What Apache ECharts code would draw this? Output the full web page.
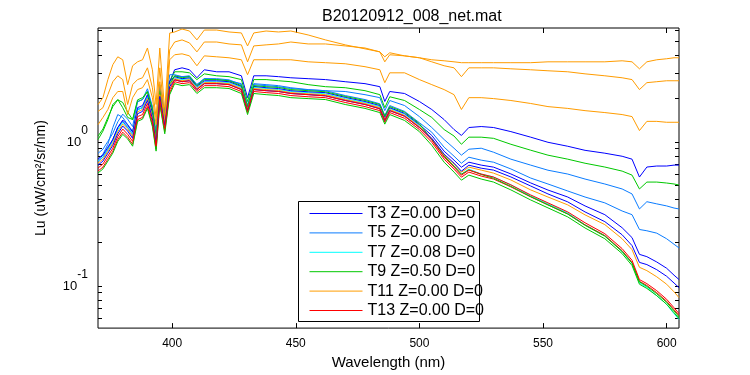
<!DOCTYPE html>
<html>
<head>
<meta charset="utf-8">
<script src="https://cdn.jsdelivr.net/npm/echarts@6/dist/echarts.min.js"></script>
<style>
  html, body { margin: 0; padding: 0; background: #fff; }
  #chart { width: 750px; height: 375px; }
</style>
</head>
<body>
<div id="chart"></div>
<script>
// wavelength grid (nm)
const wavelength = [370,372,374,376,378,380,382,384,386,388,390,392,393.5,395,397,399,401,404,407,410,413,418,423,428,430.5,433,438,443,448,455,462,470,478,484,486,488,494,500,505,510,514,517,520,525,530,537,545,552,560,567,575,582,586,589,592,596,600,603,605]

// Lu (uW/cm^2/sr/nm) per cast
const t3 = [0.736,0.784,0.891,1.04,1.26,1.39,1.26,1.13,1.68,1.73,2.06,1.55,1.01,2.24,1.39,2.62,3.17,3.27,3.17,2.79,3.17,3.07,3.07,2.88,2.03,2.88,2.88,2.84,2.79,2.75,2.71,2.62,2.54,2.42,1.91,2.24,2.17,1.91,1.68,1.43,1.22,1.11,1.26,1.28,1.26,1.18,1.08,0.995,0.934,0.875,0.836,0.796,0.760,0.571,0.670,0.681,0.681,0.691,0.691]
const t5 = [0.760,0.823,0.964,1.26,1.55,1.48,1.32,1.19,1.68,1.73,2.03,1.55,0.964,2.13,1.32,2.46,2.88,2.84,2.84,2.50,2.75,2.71,2.66,2.54,1.79,2.54,2.50,2.46,2.38,2.31,2.27,2.24,2.13,2.03,1.65,1.94,1.79,1.50,1.26,1.04,0.905,0.810,0.891,0.905,0.849,0.760,0.691,0.637,0.599,0.553,0.511,0.472,0.436,0.343,0.385,0.372,0.360,0.348,0.343]
const t7 = [0.736,0.785,0.891,1.01,1.22,1.37,1.27,1.13,1.68,1.73,2.06,1.55,1.04,2.20,1.38,2.58,2.79,2.71,2.75,2.39,2.62,2.62,2.58,2.39,1.71,2.39,2.35,2.31,2.24,2.20,2.16,2.00,1.88,1.76,1.46,1.71,1.56,1.30,1.04,0.797,0.680,0.598,0.648,0.599,0.571,0.504,0.423,0.372,0.322,0.266,0.224,0.173,0.144,0.105,0.0979,0.0858,0.0748,0.0643,0.0586]
const t9 = [1.04,1.19,1.43,1.82,1.97,1.73,1.48,1.43,1.91,1.97,2.24,1.73,1.04,2.38,1.48,2.62,3.07,3.07,3.02,2.71,2.97,2.88,2.84,2.71,1.91,2.71,2.71,2.66,2.62,2.50,2.42,2.38,2.27,2.13,1.73,2.06,1.94,1.68,1.48,1.22,1.10,0.964,1.08,1.08,1.06,0.964,0.877,0.810,0.760,0.712,0.670,0.628,0.589,0.472,0.527,0.527,0.519,0.511,0.503]
const t11 = [1.82,2.03,2.71,3.44,3.90,3.72,2.50,3.38,3.60,3.72,4.49,3.17,1.82,4.49,1.63,5.70,5.80,6.08,5.89,5.11,5.98,5.98,5.80,5.71,4.64,5.71,5.89,5.80,5.89,5.53,5.11,4.72,4.43,4.22,3.90,4.16,3.96,3.84,3.72,3.66,3.60,3.55,3.55,3.55,3.55,3.55,3.55,3.60,3.60,3.60,3.60,3.66,3.60,3.22,3.60,3.72,3.78,3.84,3.84]
const t13 = [0.628,0.670,0.760,0.863,1.04,1.17,1.08,0.964,1.43,1.48,1.76,1.32,0.891,1.88,1.18,2.20,2.62,2.54,2.58,2.24,2.46,2.46,2.42,2.24,1.60,2.24,2.20,2.17,2.10,2.06,2.03,1.88,1.76,1.65,1.37,1.60,1.46,1.22,0.995,0.760,0.648,0.570,0.618,0.580,0.553,0.488,0.416,0.366,0.317,0.266,0.224,0.176,0.146,0.108,0.101,0.090,0.0785,0.0685,0.0625]
const t15 = [0.760,0.811,0.920,1.04,1.26,1.42,1.31,1.17,1.73,1.79,2.13,1.60,1.08,2.27,1.43,2.66,2.84,2.75,2.79,2.43,2.66,2.66,2.62,2.43,1.73,2.43,2.38,2.35,2.27,2.23,2.20,2.04,1.91,1.79,1.48,1.73,1.58,1.32,1.11,0.863,0.748,0.668,0.724,0.691,0.669,0.600,0.520,0.464,0.415,0.360,0.313,0.254,0.217,0.166,0.160,0.147,0.133,0.119,0.111]
const t17 = [0.835,0.891,1.01,1.15,1.38,1.56,1.44,1.28,1.90,1.97,2.34,1.76,1.19,2.50,1.57,2.93,2.93,2.84,2.88,2.50,2.75,2.75,2.70,2.50,1.79,2.50,2.46,2.42,2.35,2.30,2.27,2.10,1.97,1.84,1.53,1.79,1.63,1.36,1.17,0.920,0.797,0.712,0.784,0.748,0.724,0.650,0.562,0.511,0.457,0.415,0.378,0.332,0.313,0.247,0.242,0.233,0.213,0.195,0.184]
const t19 = [1.10,1.23,1.48,1.76,1.96,1.88,1.61,1.43,1.96,2.03,2.23,1.68,1.08,2.27,1.38,2.50,2.88,2.79,2.84,2.46,2.71,2.71,2.66,2.46,1.76,2.46,2.42,2.39,2.31,2.27,2.23,2.07,1.94,1.82,1.51,1.76,1.61,1.34,1.04,0.797,0.680,0.598,0.640,0.595,0.560,0.492,0.418,0.366,0.316,0.264,0.222,0.174,0.144,0.107,0.0995,0.0885,0.0772,0.0673,0.0612]
const t21 = [1.63,1.73,2.13,2.62,2.88,2.71,1.82,2.50,2.71,2.79,3.27,2.38,1.48,3.27,1.43,4.36,4.94,5.11,4.87,4.22,4.94,4.94,4.79,4.72,3.60,4.64,4.72,4.79,4.94,4.79,4.79,4.64,4.49,4.22,3.60,4.03,3.96,3.84,3.60,3.38,3.27,2.84,3.27,3.27,3.27,3.22,3.17,3.12,3.07,2.97,2.88,2.79,2.71,2.31,2.58,2.62,2.66,2.66,2.66]
const t23 = [0.713,0.760,0.863,0.980,1.18,1.33,1.23,1.09,1.62,1.68,2.00,1.50,1.01,2.13,1.34,2.50,2.75,2.66,2.71,2.35,2.58,2.58,2.54,2.35,1.68,2.35,2.31,2.28,2.20,2.16,2.13,1.97,1.85,1.73,1.44,1.68,1.53,1.28,1.06,0.810,0.702,0.617,0.669,0.638,0.608,0.545,0.465,0.415,0.366,0.312,0.267,0.213,0.179,0.135,0.128,0.116,0.103,0.0912,0.0832]
const t25 = [0.609,0.650,0.737,0.837,1.01,1.13,1.05,0.935,1.39,1.44,1.71,1.28,0.864,1.82,1.14,2.13,2.54,2.46,2.50,2.17,2.38,2.38,2.35,2.17,1.55,2.17,2.13,2.10,2.03,2.00,1.97,1.82,1.71,1.60,1.33,1.55,1.41,1.18,0.948,0.724,0.618,0.543,0.589,0.553,0.527,0.465,0.396,0.349,0.302,0.253,0.213,0.168,0.139,0.103,0.0963,0.0858,0.0748,0.0653,0.0596]
const t27 = [1.32,1.48,1.68,2.03,2.24,2.24,1.55,2.03,2.31,2.38,2.71,2.03,1.32,2.62,1.32,3.72,4.03,4.09,3.96,3.38,3.96,3.90,3.84,3.72,2.93,3.72,3.72,3.72,3.72,3.60,3.55,3.49,3.33,3.17,2.58,3.02,3.02,2.71,2.50,2.31,2.13,1.68,2.03,2.03,2.00,1.94,1.85,1.76,1.71,1.65,1.60,1.55,1.50,1.20,1.39,1.39,1.37,1.37,1.37]
const t29 = [0.659,0.703,0.797,0.905,1.09,1.23,1.13,1.01,1.50,1.55,1.85,1.38,0.935,1.97,1.24,2.31,2.70,2.62,2.66,2.31,2.54,2.54,2.50,2.31,1.65,2.31,2.27,2.24,2.17,2.13,2.09,1.94,1.82,1.70,1.41,1.65,1.51,1.26,1.03,0.784,0.669,0.588,0.638,0.599,0.571,0.504,0.429,0.378,0.327,0.275,0.231,0.182,0.151,0.111,0.104,0.0929,0.0810,0.0707,0.0645]
const t31 = [0.691,0.737,0.836,0.949,1.14,1.29,1.19,1.06,1.57,1.63,1.94,1.45,0.980,2.07,1.30,2.42,2.70,2.62,2.66,2.31,2.54,2.54,2.50,2.31,1.65,2.31,2.27,2.24,2.17,2.13,2.09,1.94,1.82,1.70,1.41,1.65,1.51,1.26,1.06,0.823,0.713,0.627,0.690,0.658,0.638,0.572,0.495,0.436,0.384,0.327,0.280,0.227,0.191,0.146,0.141,0.130,0.117,0.105,0.0975]

// axis ticks
const xTicks = [400, 450, 500, 550, 600]
const yTicks = [0.06,0.07,0.08,0.09,0.1,0.2,0.3,0.4,0.5,0.6,0.7,0.8,0.9,1,2,3,4,5,6]
const yLabels = [0.1, 1]

const colors = {
  blue: '#0000ff',
  sky: '#0a7cff',
  cyan: '#00ffff',
  green: '#00c800',
  orange: '#ff9c00',
  red: '#ff0000'
}

// draw order follows the list: red drawn last sits on top
const casts = [
  {name: 'T3 Z=0.00 D=0', color: colors.blue, values: t3},
  {name: 'T5 Z=0.00 D=0', color: colors.sky, values: t5},
  {name: 'T7 Z=0.08 D=0', color: colors.cyan, values: t7},
  {name: 'T9 Z=0.50 D=0', color: colors.green, values: t9},
  {name: 'T11 Z=0.00 D=0', color: colors.orange, values: t11},
  {name: 'T13 Z=0.00 D=0', color: colors.red, values: t13},
  {name: 'T15', color: colors.blue, values: t15},
  {name: 'T17', color: colors.sky, values: t17},
  {name: 'T19', color: colors.green, values: t19},
  {name: 'T21', color: colors.orange, values: t21},
  {name: 'T23', color: colors.orange, values: t23},
  {name: 'T25', color: colors.green, values: t25},
  {name: 'T27', color: colors.orange, values: t27},
  {name: 'T31', color: colors.blue, values: t31},
  {name: 'T29', color: colors.red, values: t29}
]

const font = 'Liberation Sans, Arial, sans-serif'

const chart = echarts.init(document.getElementById('chart'), null, {renderer: 'canvas'})

const logTicks = {
  show: true,
  inside: true,
  length: 4,
  customValues: yTicks,
  lineStyle: {color: '#000', width: 1}
}

chart.setOption({
  backgroundColor: '#fff',
  animation: false,
  title: {
    text: 'B20120912_008_net.mat',
    left: 317,
    top: 4,
    textStyle: {fontFamily: font, fontSize: 16, fontWeight: 'normal', color: '#000'}
  },
  grid: {
    left: 98, right: 71, top: 28, bottom: 45,
    show: true, borderColor: '#000', borderWidth: 1, backgroundColor: '#fff'
  },
  legend: {
    data: casts.slice(0, 6).map(c => c.name),
    orient: 'vertical',
    left: 309,
    top: 205.5,
    padding: 0,
    itemWidth: 53,
    itemHeight: 16,
    itemGap: 3.4,
    // line sample only, no marker
    itemStyle: {opacity: 0},
    lineStyle: {width: 1},
    z: 12,
    textStyle: {fontFamily: font, fontSize: 16, color: '#000', lineHeight: 16}
  },
  graphic: [{
    type: 'rect',
    z: 11,
    shape: {x: 298.5, y: 201.5, width: 181, height: 120},
    style: {fill: '#fff', stroke: '#000', lineWidth: 1}
  }],
  xAxis: [{
    type: 'value',
    min: 370, max: 605,
    name: 'Wavelength (nm)',
    nameLocation: 'middle',
    nameGap: 26,
    nameTextStyle: {fontFamily: font, fontSize: 15, color: '#000'},
    axisLine: {show: false},
    axisTick: {inside: true, length: 5, customValues: xTicks, lineStyle: {color: '#000'}},
    axisLabel: {customValues: xTicks, margin: 10, fontFamily: font, fontSize: 12, color: '#000'},
    splitLine: {show: false}
  }, {
    type: 'value',
    position: 'top',
    min: 370, max: 605,
    axisLine: {show: false},
    axisTick: {inside: true, length: 5, customValues: xTicks, lineStyle: {color: '#000'}},
    axisLabel: {show: false},
    splitLine: {show: false}
  }],
  yAxis: [{
    type: 'log',
    logBase: 10,
    min: 0.0511, max: 6.18,
    name: 'Lu (uW/cm²/sr/nm)',
    nameLocation: 'middle',
    nameGap: 50,
    nameTextStyle: {fontFamily: font, fontSize: 14, color: '#000'},
    axisLine: {show: false},
    axisTick: logTicks,
    axisLabel: {
      customValues: yLabels,
      margin: 10,
      formatter: v => '{b|10}{s|' + Math.round(Math.log10(v)) + '}',
      rich: {
        b: {fontFamily: font, fontSize: 13, color: '#000'},
        s: {fontFamily: font, fontSize: 12, color: '#000', padding: [0, 0, 22, 0]}
      }
    },
    splitLine: {show: false},
    minorTick: {show: false}
  }, {
    type: 'log',
    logBase: 10,
    position: 'right',
    min: 0.0511, max: 6.18,
    axisLine: {show: false},
    axisTick: logTicks,
    axisLabel: {show: false},
    splitLine: {show: false}
  }],
  series: casts.map(c => ({
    name: c.name,
    type: 'line',
    xAxisIndex: 0,
    yAxisIndex: 0,
    symbol: 'none',
    showSymbol: false,
    color: c.color,
    itemStyle: {color: c.color},
    lineStyle: {width: 1, color: c.color},
    data: wavelength.map((w, i) => [w, c.values[i]])
  }))
})
</script>
</body>
</html>
